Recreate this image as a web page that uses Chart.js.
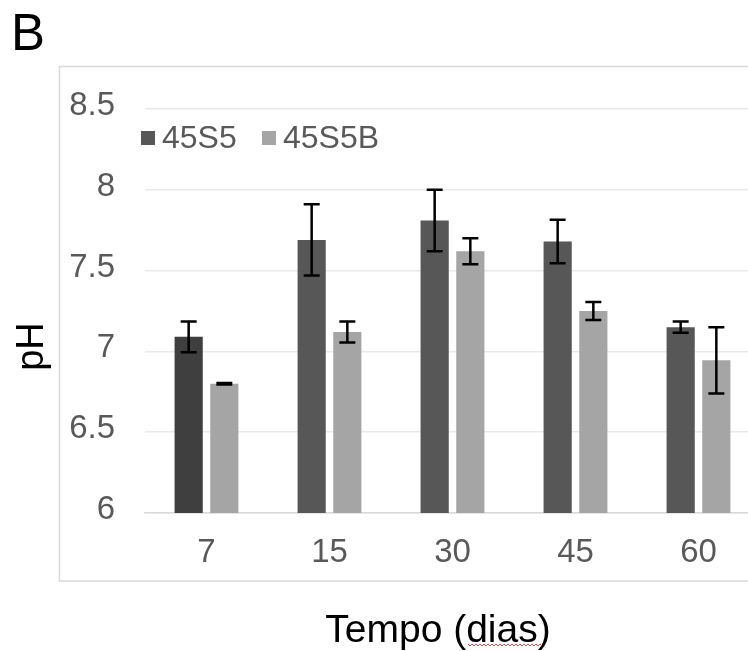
<!DOCTYPE html>
<html>
<head>
<meta charset="utf-8">
<script src="https://cdn.jsdelivr.net/npm/chart.js@4/dist/chart.umd.min.js"></script>
<style>
  html, body { margin: 0; padding: 0; background: #fff; overflow: hidden; }
  #wrap { width: 800px; height: 651px; }
</style>
</head>
<body>
<div id="wrap"><canvas id="chartPh" width="800" height="651"></canvas></div>
<script>
// pH ao longo do tempo (dias)
const categories = ['7', '15', '30', '45', '60'];
const seriesNames = ['45S5', '45S5B'];
const ph45S5 = [7.09, 7.69, 7.81, 7.68, 7.15];
const err45S5 = [0.095, 0.22, 0.19, 0.135, 0.035];
const ph45S5B = [6.80, 7.12, 7.62, 7.25, 6.945];
const err45S5B = [0.005, 0.065, 0.08, 0.055, 0.205];
const errors = [err45S5, err45S5B];

const FONT = "'Liberation Sans', Arial, sans-serif";

// frame, panel letter, titles, legend and error bars
const extrasPlugin = {
  id: 'extras',
  beforeDraw(chart) {
    const ctx = chart.ctx;
    ctx.save();
    ctx.strokeStyle = '#d9d9d9';
    ctx.lineWidth = 1.5;
    ctx.strokeRect(59.5, 66.5, 800, 514.5);
    ctx.restore();
  },
  afterDatasetsDraw(chart) {
    const ctx = chart.ctx;
    const yScale = chart.scales.y;
    ctx.save();
    ctx.strokeStyle = '#000';
    ctx.lineWidth = 2.5;
    chart.data.datasets.forEach((ds, di) => {
      const meta = chart.getDatasetMeta(di);
      meta.data.forEach((bar, i) => {
        const v = ds.data[i];
        const e = errors[di][i];
        const yTop = yScale.getPixelForValue(v + e);
        const yBot = yScale.getPixelForValue(v - e);
        ctx.beginPath();
        ctx.moveTo(bar.x, yTop);
        ctx.lineTo(bar.x, yBot);
        ctx.moveTo(bar.x - 8, yTop);
        ctx.lineTo(bar.x + 8, yTop);
        ctx.moveTo(bar.x - 8, yBot);
        ctx.lineTo(bar.x + 8, yBot);
        ctx.stroke();
      });
    });
    ctx.restore();
  },
  afterDraw(chart) {
    const ctx = chart.ctx;
    ctx.save();
    ctx.fillStyle = '#000';

    // panel letter
    ctx.font = '51px ' + FONT;
    ctx.textAlign = 'left';
    ctx.textBaseline = 'alphabetic';
    ctx.fillText('B', 11, 50);

    // x title
    ctx.font = '39px ' + FONT;
    ctx.textAlign = 'center';
    ctx.fillText('Tempo (dias)', 438, 642);

    // spell-check squiggle under "dias"
    ctx.strokeStyle = '#e05050';
    ctx.lineWidth = 1;
    ctx.beginPath();
    for (let x = 468; x <= 543; x += 2) {
      const y = 645 + ((x / 2) % 2 === 0 ? -1 : 1);
      if (x === 468) ctx.moveTo(x, y); else ctx.lineTo(x, y);
    }
    ctx.stroke();

    // y title
    ctx.translate(43, 346.5);
    ctx.rotate(-Math.PI / 2);
    ctx.font = '38px ' + FONT;
    ctx.fillText('pH', 0, 0);
    ctx.restore();

    // legend inside plot
    ctx.save();
    ctx.font = '32px ' + FONT;
    ctx.textAlign = 'left';
    ctx.textBaseline = 'middle';
    const legendX = [141, 262];
    chart.data.datasets.forEach((ds, di) => {
      ctx.fillStyle = ds.legendColor;
      ctx.fillRect(legendX[di], 131, 14, 14);
      ctx.fillStyle = '#595959';
      ctx.fillText(ds.label, legendX[di] + 21, 139);
    });
    ctx.restore();
  }
};

const dataPh = {
  labels: categories,
  datasets: [
    {
      label: seriesNames[0],
      data: ph45S5,
      backgroundColor: ['#3f3f3f', '#575757', '#575757', '#575757', '#575757'],
      legendColor: '#575757',
      categoryPercentage: 0.58,
      barPercentage: 0.79
    },
    {
      label: seriesNames[1],
      data: ph45S5B,
      backgroundColor: '#a5a5a5',
      legendColor: '#a5a5a5',
      categoryPercentage: 0.58,
      barPercentage: 0.79
    }
  ]
};

const configPh = {
  type: 'bar',
  data: dataPh,
  options: {
    responsive: false,
    animation: false,
    layout: {
      padding: { top: 109, right: 40, left: 0, bottom: 0 }
    },
    plugins: {
      legend: { display: false },
      tooltip: { enabled: false },
      title: { display: false }
    },
    scales: {
      x: {
        grid: { display: false, drawTicks: false },
        border: { display: true, color: '#d9d9d9', width: 1.5 },
        ticks: {
          color: '#595959',
          font: { family: FONT, size: 33 },
          padding: 20,
          maxRotation: 0
        },
        afterFit(scale) { scale.height = 138; }
      },
      y: {
        min: 6,
        max: 8.5,
        grid: { color: '#e9e9e9', lineWidth: 1.5, drawTicks: false },
        border: { display: false },
        ticks: {
          stepSize: 0.5,
          color: '#595959',
          font: { family: FONT, size: 33 },
          padding: 30,
          labelOffset: -3,
          callback: (value) => String(value)
        },
        afterFit(scale) { scale.width = 145; }
      }
    }
  },
  plugins: [extrasPlugin]
};

const chartPh = new Chart(document.getElementById('chartPh'), configPh);
</script>
</body>
</html>
